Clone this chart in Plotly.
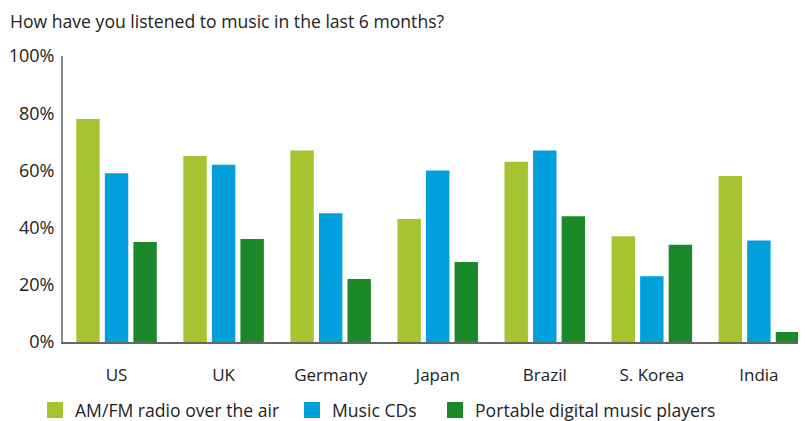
import plotly.graph_objects as go

countries = ["US", "UK", "Germany", "Japan", "Brazil", "S. Korea", "India"]
radio = [78, 65, 67, 43, 63, 37, 58]
cds = [59, 62, 45, 60, 67, 23, 35.5]
portable = [35, 36, 22, 28, 44, 34, 3.5]

series = [
    ("AM/FM radio over the air", radio, "#A5C42F"),
    ("Music CDs", cds, "#00A0DC"),
    ("Portable digital music players", portable, "#1B8829"),
]

FONT = "Open Sans"
TXT = "#222222"
legend_ids = ["legend", "legend2", "legend3"]
legend_x = [-0.0377, 0.3082, 0.5007]

fig = go.Figure()
for name, vals, color in series:
    fig.add_trace(go.Bar(x=countries, y=vals, name=name, showlegend=False,
                         marker=dict(color=color, line=dict(width=0))))
# legend entries with larger square swatches, each in its own legend box
for (name, vals, color), lid in zip(series, legend_ids):
    fig.add_trace(go.Scatter(x=[None], y=[None], mode="markers", name=name,
                             legend=lid,
                             marker=dict(symbol="square", size=16, color=color)))

leg_common = dict(orientation="h", xanchor="left", y=-0.238, yanchor="middle",
                  font=dict(family=FONT, size=17.6, color=TXT),
                  bgcolor="rgba(0,0,0,0)")

# the page body has an 8px margin; the figure is sized to fill the rest
fig.update_layout(
    width=798, height=413,
    margin=dict(l=55, r=0, t=48, b=79, autoexpand=False),
    paper_bgcolor="white", plot_bgcolor="white",
    barmode="group", bargap=0.2, bargroupgap=0.18,
    font=dict(family=FONT, size=17.5, color=TXT),
    title=dict(text="How have you listened to music in the last 6 months?",
               x=0, xref="container", xanchor="left", y=1, yref="container",
               yanchor="top", pad=dict(t=8, l=2),
               font=dict(family=FONT, size=17.6, color=TXT)),
    xaxis=dict(range=[-0.5, 6.44], showline=True, linecolor="#666666",
               linewidth=2, ticks="", showgrid=False, ticklabelstandoff=17,
               tickfont=dict(family=FONT, size=17, color=TXT)),
    yaxis=dict(range=[0, 100], dtick=20, ticksuffix="%", showline=True,
               linecolor="#8a8a8a", linewidth=2, ticks="", showgrid=False,
               zeroline=False, ticklabelstandoff=3,
               tickfont=dict(family=FONT, size=18, color=TXT)),
    legend=dict(x=legend_x[0], **leg_common),
    legend2=dict(x=legend_x[1], **leg_common),
    legend3=dict(x=legend_x[2], **leg_common),
)

fig.write_html("out.html")
